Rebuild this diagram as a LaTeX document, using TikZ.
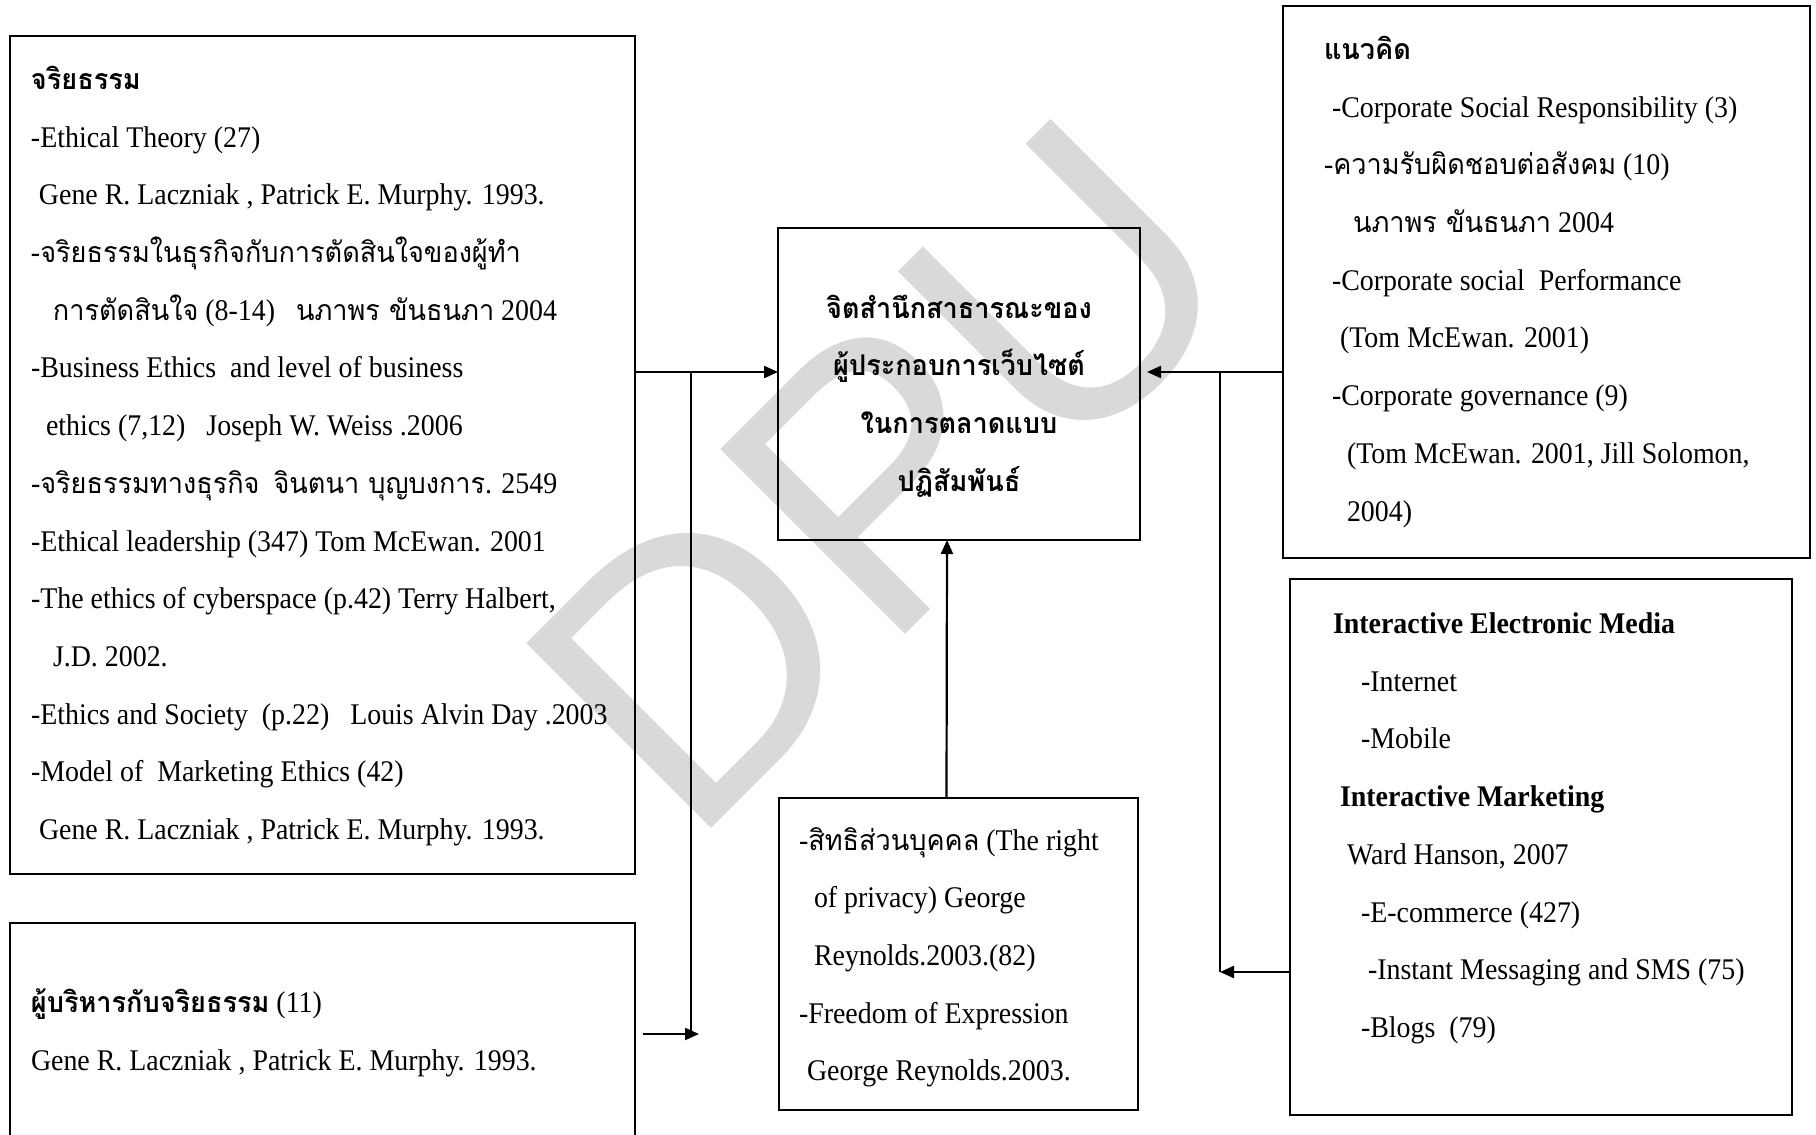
\documentclass[tikz,border=0pt]{standalone}
\usepackage{fontspec}
\setmainfont{Liberation Serif}[FakeStretch=0.93]
\newfontfamily\thf[Script=Thai,Scale=0.95,FakeStretch=0.95]{Loma}
\newfontfamily\wmf{Liberation Sans}
\newcommand\thx[1]{{\thf #1}}
\usetikzlibrary{arrows.meta,calc}
\definecolor{wm}{RGB}{217,217,217}
\begin{document}
\begin{tikzpicture}[x=0.5pt,y=-0.5pt,
  box/.style={draw, line width=1.1pt, inner sep=0pt, outer sep=0pt, anchor=north west},
  txt/.style={anchor=base west, inner sep=0pt, outer sep=0pt, font=\fontsize{15}{28.85}\selectfont},
  arr/.style={line width=1.1pt, -{Triangle[length=7pt,width=6pt]}},
  ln/.style={line width=1.1pt}]
\useasboundingbox (0,0) rectangle (1816,1135);
\clip (0,0) rectangle (1816,1135);
% watermark
\node[rotate=45, text=wm, font=\wmf\fontsize{190}{190}\selectfont, inner sep=0pt] (wmark) at (882,476) {DPU};
% boxes
\node[box, minimum width=312.5pt, minimum height=419pt] (A) at (10,36) {};
\node[box, minimum width=312.5pt, minimum height=118.5pt] (B) at (10,923) {};
\node[box, minimum width=181pt, minimum height=156pt] (C) at (778,228) {};
\node[box, minimum width=179.5pt, minimum height=156pt] (D) at (779,798) {};
\node[box, minimum width=263.5pt, minimum height=276pt] (E) at (1283,6) {};
\node[box, minimum width=251pt, minimum height=268pt] (F) at (1290,579) {};
% junctions
\coordinate (jL) at (691,372);
\coordinate (jB) at (691,1034);
\coordinate (jR) at (1220,372);
\coordinate (jF) at (1220,972);
% connectors
\draw[arr] (A.east |- jL) -- (C.west |- jL);
\draw[ln] (jL) -- (jB);
\draw[arr] ($(B.east |- jB)+(8,0)$) -- ($(jB)+(8,0)$);
\draw[arr] ($(D.north)+(-12,0)$) -- ($(C.south)+(-12,0)$);
\draw[arr] (E.west |- jR) -- ($(C.east |- jR)+(7,0)$);
\draw[ln] (jR) -- (jF);
\draw[arr] (F.west |- jF) -- (jF);
% texts
\node[txt] (At) at (31,89.5) {\begin{tabular}[t]{@{}l@{}}
\textbf{\thx{จริยธรรม}}\\
-Ethical Theory (27)\\
\hspace*{4pt}Gene R. Laczniak , Patrick E. Murphy. 1993.\\
-\thx{จริยธรรมในธุรกิจกับการตัดสินใจของผู้ทำ}\\
\hspace*{11pt}\thx{การตัดสินใจ} (8-14)\ \ \ \thx{นภาพร ขันธนภา} 2004\\
-Business Ethics\ \ and level of business\\
\hspace*{7.5pt}ethics (7,12)\ \ \ Joseph W. Weiss .2006\\
-\thx{จริยธรรมทางธุรกิจ}\hspace{7pt}\thx{จินตนา บุญบงการ}. 2549\\
-Ethical leadership (347) Tom McEwan. 2001\\
-The ethics of cyberspace (p.42) Terry Halbert,\\
\hspace*{11pt}J.D. 2002.\\
-Ethics and Society\ \ (p.22)\ \ \ Louis Alvin Day .2003\\
-Model of\ \ Marketing Ethics (42)\\
\hspace*{4pt}Gene R. Laczniak , Patrick E. Murphy. 1993.
\end{tabular}};
\node[txt] (Bt) at (31,1012.5) {\begin{tabular}[t]{@{}l@{}}
\textbf{\thx{ผู้บริหารกับจริยธรรม}} (11)\\
Gene R. Laczniak , Patrick E. Murphy. 1993.
\end{tabular}};
\node[txt, anchor=base] (Ct) at (959,318) {\begin{tabular}[t]{@{}c@{}}
\textbf{\thx{จิตสำนึกสาธารณะของ}}\\
\textbf{\thx{ผู้ประกอบการเว็บไซต์}}\\
\textbf{\thx{ในการตลาดแบบ}}\\
\textbf{\thx{ปฏิสัมพันธ์}}
\end{tabular}};
\node[txt] (Dt) at (799,850) {\begin{tabular}[t]{@{}l@{}}
-\thx{สิทธิส่วนบุคคล} (The right\\
\hspace*{7.5pt}of privacy) George\\
\hspace*{7.5pt}Reynolds.2003.(82)\\
-Freedom of Expression\\
\hspace*{4pt}George Reynolds.2003.
\end{tabular}};
\node[txt] (Et) at (1324,59.5) {\begin{tabular}[t]{@{}l@{}}
\textbf{\thx{แนวคิด}}\\
\hspace*{4pt}-Corporate Social Responsibility (3)\\
-\thx{ความรับผิดชอบต่อสังคม} (10)\\
\hspace*{14.5pt}\thx{นภาพร ขันธนภา} 2004\\
\hspace*{4pt}-Corporate social\ \ Performance\\
\hspace*{8pt}(Tom McEwan. 2001)\\
\hspace*{4pt}-Corporate governance (9)\\
\hspace*{11.5pt}(Tom McEwan. 2001, Jill Solomon,\\
\hspace*{11.5pt}2004)
\end{tabular}};
\node[txt] (Ft) at (1333,633.5) {\begin{tabular}[t]{@{}l@{}}
\textbf{Interactive Electronic Media}\\
\hspace*{14pt}-Internet\\
\hspace*{14pt}-Mobile\\
\hspace*{3.5pt}\textbf{Interactive Marketing}\\
\hspace*{7pt}Ward Hanson, 2007\\
\hspace*{14pt}-E-commerce (427)\\
\hspace*{17.5pt}-Instant Messaging and SMS (75)\\
\hspace*{14pt}-Blogs\ \ (79)
\end{tabular}};
\end{tikzpicture}
\end{document}
